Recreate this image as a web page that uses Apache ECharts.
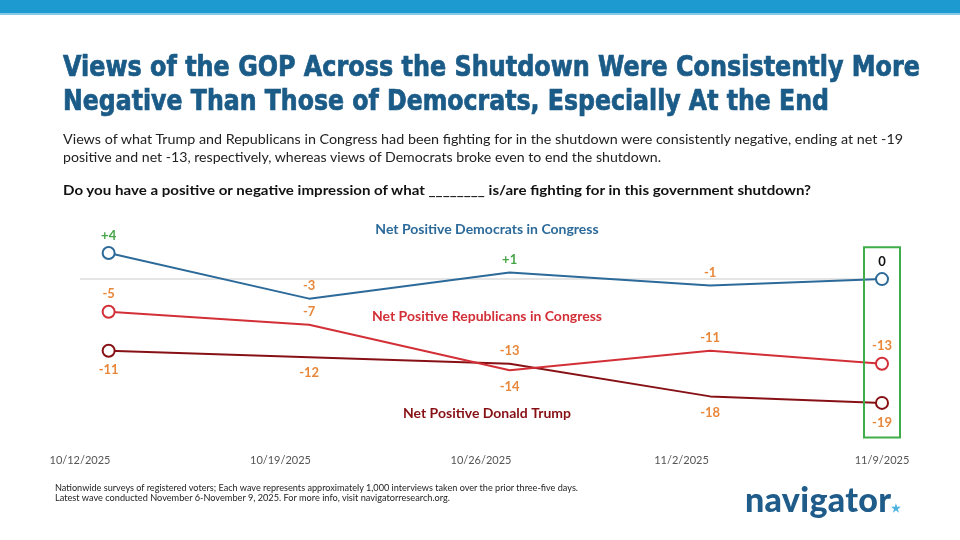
<!DOCTYPE html>
<html>
<head>
<meta charset="utf-8">
<script src="https://cdn.jsdelivr.net/npm/echarts@6/dist/echarts.min.js"></script>
<style>
  html,body{margin:0;padding:0;background:#fff;}
  #wrap{position:relative;width:960px;height:540px;overflow:hidden;background:#fff;}
  #chart{position:absolute;left:0;top:0;width:960px;height:540px;}
  .t{position:absolute;white-space:nowrap;transform-origin:0 0;}
  .title{font-family:"DejaVu Sans Condensed","Liberation Sans Narrow","Roboto",sans-serif;font-weight:bold;font-size:28px;color:#1b5b87;left:63px;-webkit-text-stroke:0.7px #1b5b87;}
  .sub{font-family:"Lato","Noto Sans",sans-serif;font-size:14px;color:#222;left:63px;}
  .q{font-family:"Lato","Noto Sans",sans-serif;font-weight:bold;font-size:13.5px;color:#111;left:63px;}
  .foot{font-family:"Lato","Noto Sans",sans-serif;font-size:9px;color:#222;left:55px;}
  .logo{font-family:"Lato","Roboto",sans-serif;font-weight:900;font-size:34px;color:#1f5c8a;left:745px;top:478px;letter-spacing:0.3px;}
  #bar{position:absolute;left:0;top:0;width:960px;height:13px;background:#1d9bd1;border-bottom:2px solid #86c8e6;}
</style>
</head>
<body>
<div id="wrap">
  <div id="bar"></div>
  <div id="chart"></div>
  <div class="t title" style="top:50px" data-w="857">Views of the GOP Across the Shutdown Were Consistently More</div>
  <div class="t title" style="top:84px" data-w="766">Negative Than Those of Democrats, Especially At the End</div>
  <div class="t sub" style="top:130px" data-w="840">Views of what Trump and Republicans in Congress had been fighting for in the shutdown were consistently negative, ending at net -19</div>
  <div class="t sub" style="top:148px" data-w="598">positive and net -13, respectively, whereas views of Democrats broke even to end the shutdown.</div>
  <div class="t q" style="top:182px" data-w="748">Do you have a positive or negative impression of what ________ is/are fighting for in this government shutdown?</div>
  <div class="t foot" style="top:482px" data-w="523">Nationwide surveys of registered voters; Each wave represents approximately 1,000 interviews taken over the prior three-five days.</div>
  <div class="t foot" style="top:492px" data-w="395">Latest wave conducted November 6-November 9, 2025. For more info, visit navigatorresearch.org.</div>
  <div class="t logo">navigator<span style="color:#4fb3e0;font-size:11px;vertical-align:baseline;">&#9733;</span></div>
</div>
<script>
// ---- Data ----
const tickLabels = ['10/12/2025', '10/19/2025', '10/26/2025', '11/2/2025', '11/9/2025'];
const axisStart = '2025-10-12';
const waveDates = ['2025-10-13', '2025-10-20', '2025-10-27', '2025-11-03', '2025-11-09'];
const democrats = [4, -3, 1, -1, 0];
const republicans = [-5, -7, -14, -11, -13];
const trump = [-11, -12, -13, -18, -19];

// label placement (style only)
const demLabelPos = ['top', 'top', 'top', 'top', 'top'];
const repLabelPos = ['top', 'top', 'bottom', 'top', 'top'];
const trumpLabelPos = ['bottom', 'bottom', 'top', 'bottom', 'bottom'];

// fit text widths
document.querySelectorAll('.t[data-w]').forEach(el => {
  const target = parseFloat(el.dataset.w);
  const w = el.getBoundingClientRect().width;
  if (w > 0) el.style.transform = 'scaleX(' + (target / w) + ')';
});

const DAY = 86400000;
const t0 = Date.parse(axisStart + 'T00:00:00Z');
const xDays = waveDates.map(d => Math.round((Date.parse(d + 'T00:00:00Z') - t0) / DAY));

const GREEN = '#45a545', ORANGE = '#e8873a';
function labelColor(v) { return v > 0 ? GREEN : (v < 0 ? ORANGE : '#111'); }
function fmt(v) { return v > 0 ? '+' + v : String(v); }

function buildData(values, positions, color) {
  const n = values.length;
  return values.map((v, i) => {
    const end = (i === 0 || i === n - 1);
    const pos = positions[i];
    return {
      value: [xDays[i], v],
      symbol: end ? 'emptyCircle' : 'circle',
      symbolSize: end ? 12 : 1,
      itemStyle: end ? { color: color, borderColor: color, borderWidth: 2 } : { color: color },
      label: {
        show: true,
        position: pos,
        distance: end ? (pos === 'top' ? 4 : 6) : (pos === 'top' ? 6 : 9),
        formatter: fmt(v),
        color: labelColor(v),
        fontWeight: 'bold',
        fontSize: 13,
        fontFamily: 'Lato, "Noto Sans", sans-serif'
      }
    };
  });
}

const DEM = '#2c6a9a', REP = '#d22f37', TRU = '#871015';

const chart = echarts.init(document.getElementById('chart'), null, { renderer: 'canvas' });
const option = {
  animation: false,
  grid: { left: 80, right: 78, top: 240, bottom: 98 },
  xAxis: {
    type: 'value', min: 0, max: 28, interval: 7,
    axisLine: { show: false }, axisTick: { show: false }, splitLine: { show: false },
    axisLabel: {
      color: '#555', fontSize: 11, margin: 13,
      fontFamily: 'Lato, "Noto Sans", sans-serif',
      formatter: v => tickLabels[Math.round(v / 7)] || ''
    }
  },
  yAxis: { type: 'value', min: -25, max: 6, show: false, splitLine: { show: false } },
  series: [
    {
      name: 'Net Positive Donald Trump', type: 'line', z: 2,
      data: buildData(trump, trumpLabelPos, TRU),
      lineStyle: { color: TRU, width: 2 }, itemStyle: { color: TRU }
    },
    {
      name: 'Net Positive Republicans in Congress', type: 'line', z: 3,
      data: buildData(republicans, repLabelPos, REP),
      lineStyle: { color: REP, width: 2 }, itemStyle: { color: REP }
    },
    {
      name: 'Net Positive Democrats in Congress', type: 'line', z: 4,
      data: buildData(democrats, demLabelPos, DEM),
      lineStyle: { color: DEM, width: 2 }, itemStyle: { color: DEM },
      markLine: {
        silent: true, symbol: 'none', z: 1,
        label: { show: false },
        lineStyle: { color: '#dcdcdc', width: 1.5, type: 'solid' },
        data: [{ yAxis: 0 }]
      }
    }
  ]
};
chart.setOption(option);

// annotations and highlight box
const lastX = chart.convertToPixel({ gridIndex: 0 }, [xDays[xDays.length - 1], 0])[0];
const boxTop = chart.convertToPixel({ gridIndex: 0 }, [0, 4.9])[1];
const boxBot = chart.convertToPixel({ gridIndex: 0 }, [0, -24.3])[1];
const font = 'bold 14px Lato, "Noto Sans", sans-serif';
chart.setOption({
  graphic: [
    { type: 'text', x: 487, y: 229, style: { text: 'Net Positive Democrats in Congress', font: font, fill: DEM, align: 'center', verticalAlign: 'middle' } },
    { type: 'text', x: 487, y: 316, style: { text: 'Net Positive Republicans in Congress', font: font, fill: REP, align: 'center', verticalAlign: 'middle' } },
    { type: 'text', x: 487, y: 413, style: { text: 'Net Positive Donald Trump', font: font, fill: TRU, align: 'center', verticalAlign: 'middle' } },
    { type: 'rect', shape: { x: lastX - 18, y: boxTop, width: 36, height: boxBot - boxTop }, style: { fill: 'none', stroke: '#3fae4a', lineWidth: 2 }, z: 10 }
  ]
});
</script>
</body>
</html>
